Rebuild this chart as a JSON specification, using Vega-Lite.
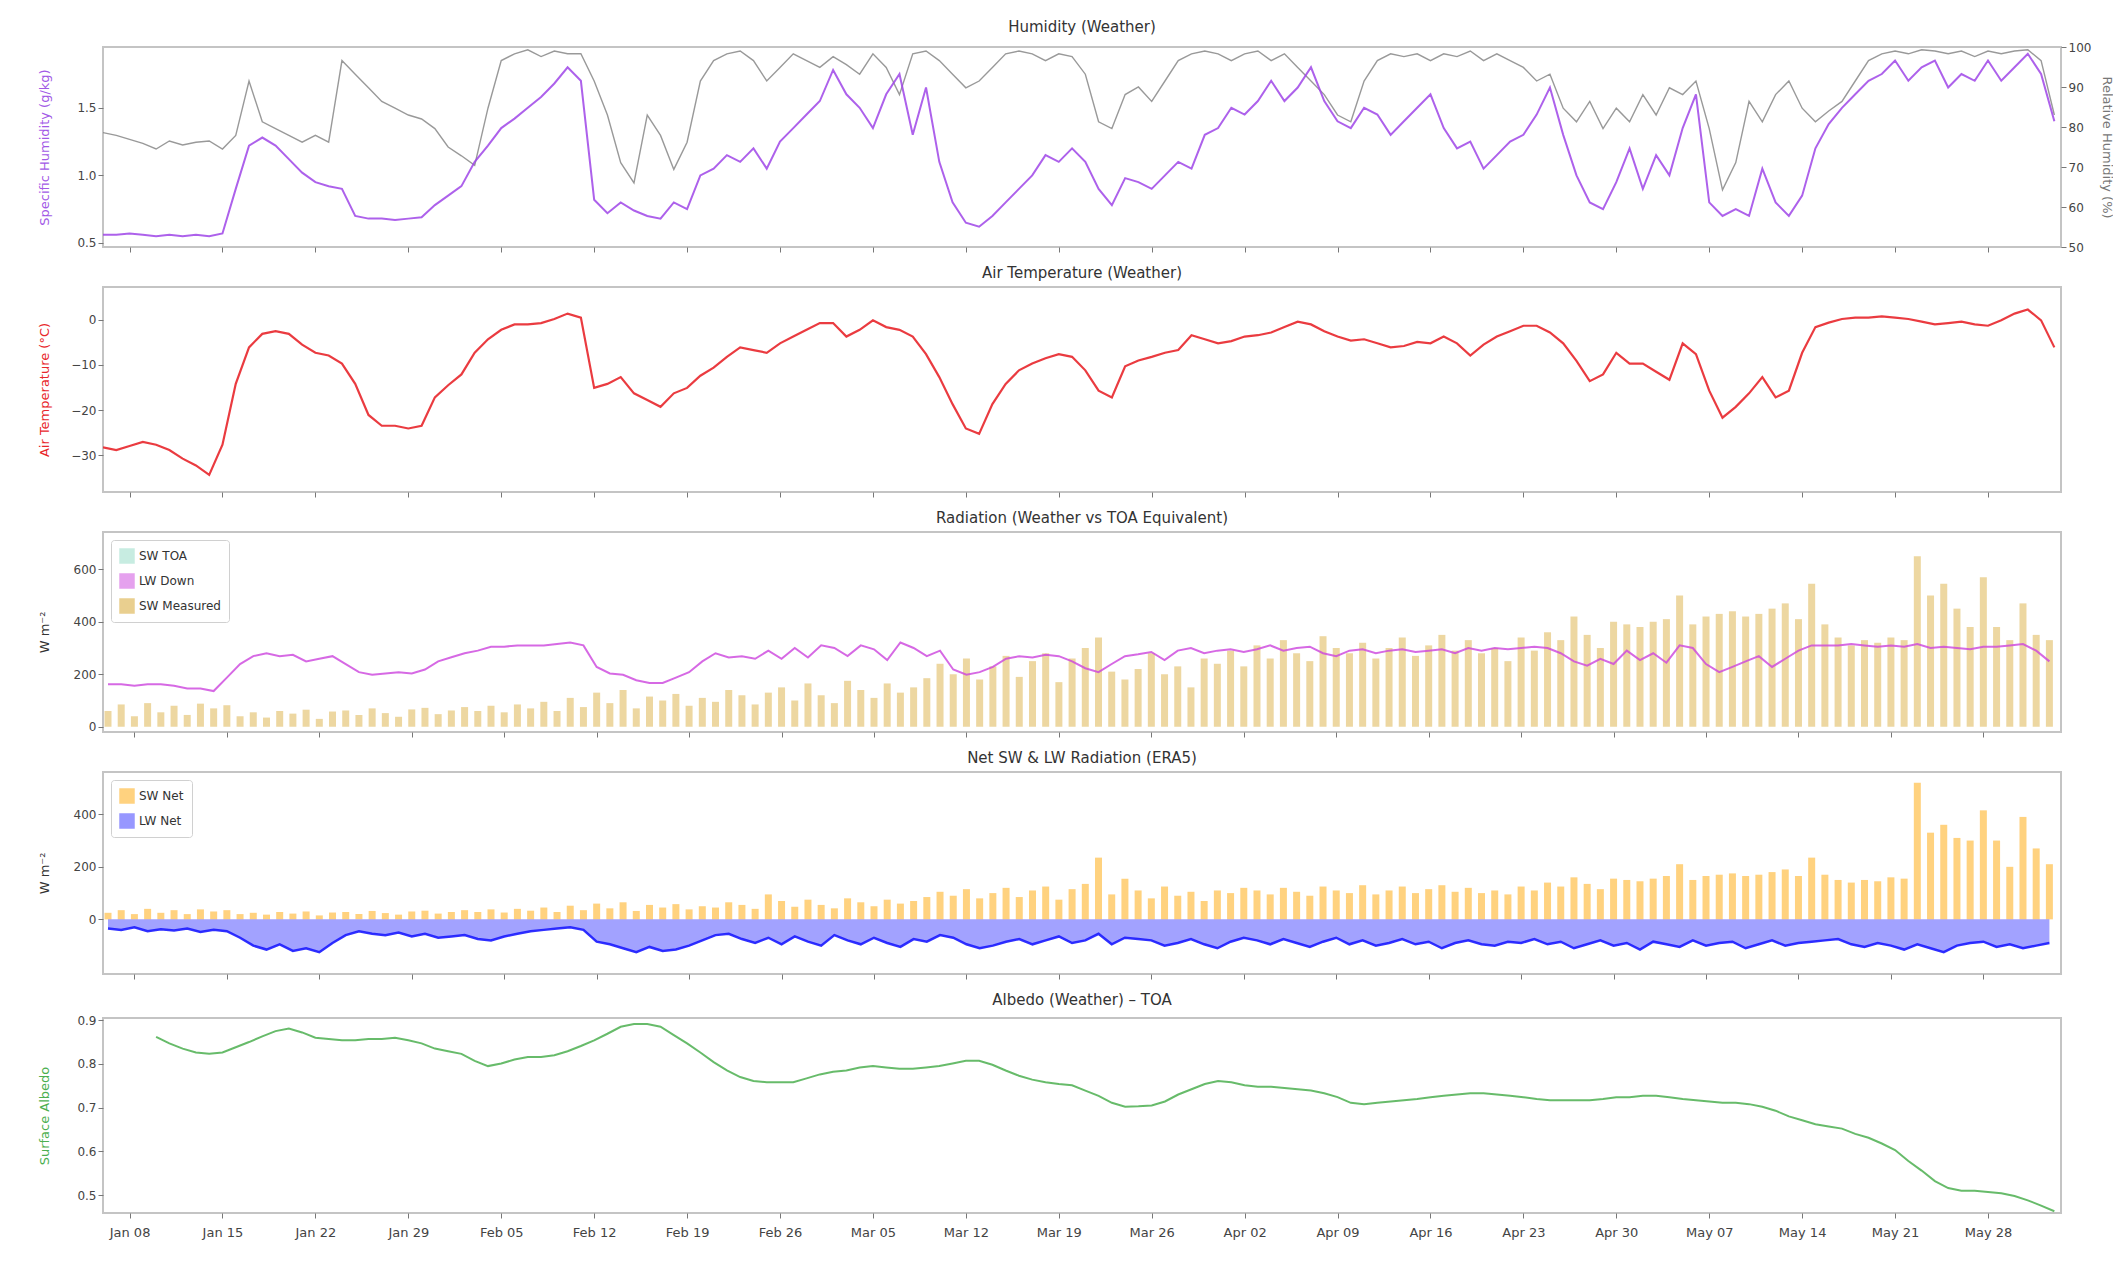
{
  "$schema": "https://vega.github.io/schema/vega-lite/v6.json",
  "background": "white",
  "padding": {"left": 37, "top": 19, "right": 0, "bottom": 5},
  "spacing": 11,
  "resolve": {"scale": {"color": "independent"}, "legend": {"color": "independent"}},
  "config": {
    "font": "DejaVu Sans",
    "view": {"stroke": "#c4c4c4", "strokeWidth": 2},
    "axis": {"grid": false, "domain": false, "tickColor": "#777", "tickSize": 5, "labelFontSize": 12, "labelColor": "#444", "titleFontSize": 13, "titleFontWeight": "normal", "titleColor": "#333", "labelFont": "DejaVu Sans", "titleFont": "DejaVu Sans"},
    "axisY": {"minExtent": 40, "maxExtent": 40, "titlePadding": 12},
    "title": {"fontSize": 15, "fontWeight": "normal", "color": "#333", "offset": 6, "font": "DejaVu Sans"},
    "legend": {"orient": "top-left", "offset": 8, "symbolType": "square", "symbolSize": 240, "symbolOpacity": 0.5, "symbolStrokeWidth": 0, "labelFontSize": 12, "labelColor": "#333", "fillColor": "white", "strokeColor": "#d0d0d0", "padding": 8, "rowPadding": 9, "cornerRadius": 3}
  },
  "datasets": {
    "met": [
      {"d":"2023-01-06","q":0.56,"rh":78.6,"t":-28.3,"lw":162,"sw":60,"sn":25,"ln":-35,"al":null},
      {"d":"2023-01-07","q":0.56,"rh":77.9,"t":-28.9,"lw":162,"sw":85,"sn":35,"ln":-40,"al":null},
      {"d":"2023-01-08","q":0.57,"rh":76.9,"t":-28.0,"lw":156,"sw":40,"sn":20,"ln":-30,"al":null},
      {"d":"2023-01-09","q":0.56,"rh":75.9,"t":-27.1,"lw":162,"sw":90,"sn":40,"ln":-45,"al":null},
      {"d":"2023-01-10","q":0.55,"rh":74.5,"t":-27.7,"lw":162,"sw":55,"sn":25,"ln":-38,"al":0.862},
      {"d":"2023-01-11","q":0.56,"rh":76.5,"t":-28.9,"lw":156,"sw":80,"sn":35,"ln":-42,"al":0.847},
      {"d":"2023-01-12","q":0.55,"rh":75.5,"t":-30.8,"lw":146,"sw":45,"sn":20,"ln":-35,"al":0.835},
      {"d":"2023-01-13","q":0.56,"rh":76.2,"t":-32.3,"lw":146,"sw":88,"sn":38,"ln":-48,"al":0.826},
      {"d":"2023-01-14","q":0.55,"rh":76.5,"t":-34.4,"lw":136,"sw":70,"sn":30,"ln":-40,"al":0.823},
      {"d":"2023-01-15","q":0.57,"rh":74.5,"t":-27.7,"lw":187,"sw":82,"sn":35,"ln":-45,"al":0.826},
      {"d":"2023-01-16","q":0.90,"rh":77.9,"t":-14.2,"lw":239,"sw":40,"sn":20,"ln":-70,"al":0.838},
      {"d":"2023-01-17","q":1.22,"rh":91.5,"t":-6.1,"lw":269,"sw":55,"sn":25,"ln":-100,"al":0.850},
      {"d":"2023-01-18","q":1.28,"rh":81.3,"t":-3.1,"lw":280,"sw":35,"sn":18,"ln":-115,"al":0.863},
      {"d":"2023-01-19","q":1.22,"rh":79.6,"t":-2.5,"lw":269,"sw":60,"sn":28,"ln":-95,"al":0.875},
      {"d":"2023-01-20","q":1.12,"rh":77.9,"t":-3.1,"lw":274,"sw":50,"sn":22,"ln":-120,"al":0.881},
      {"d":"2023-01-21","q":1.02,"rh":76.2,"t":-5.5,"lw":249,"sw":65,"sn":30,"ln":-110,"al":0.872},
      {"d":"2023-01-22","q":0.95,"rh":77.9,"t":-7.3,"lw":259,"sw":30,"sn":15,"ln":-125,"al":0.860},
      {"d":"2023-01-23","q":0.92,"rh":76.2,"t":-7.9,"lw":269,"sw":58,"sn":26,"ln":-90,"al":0.857},
      {"d":"2023-01-24","q":0.90,"rh":96.6,"t":-9.7,"lw":239,"sw":62,"sn":28,"ln":-60,"al":0.854},
      {"d":"2023-01-25","q":0.70,"rh":93.2,"t":-14.2,"lw":208,"sw":45,"sn":20,"ln":-45,"al":0.854},
      {"d":"2023-01-26","q":0.68,"rh":89.8,"t":-21.1,"lw":198,"sw":70,"sn":32,"ln":-55,"al":0.857},
      {"d":"2023-01-27","q":0.68,"rh":86.4,"t":-23.5,"lw":203,"sw":52,"sn":24,"ln":-60,"al":0.857},
      {"d":"2023-01-28","q":0.67,"rh":84.7,"t":-23.5,"lw":208,"sw":38,"sn":18,"ln":-50,"al":0.860},
      {"d":"2023-01-29","q":0.68,"rh":83.0,"t":-24.1,"lw":203,"sw":66,"sn":30,"ln":-65,"al":0.854},
      {"d":"2023-01-30","q":0.69,"rh":82.0,"t":-23.5,"lw":218,"sw":72,"sn":33,"ln":-55,"al":0.847},
      {"d":"2023-01-31","q":0.78,"rh":79.6,"t":-17.2,"lw":249,"sw":48,"sn":22,"ln":-70,"al":0.835},
      {"d":"2023-02-01","q":0.85,"rh":75.0,"t":-14.5,"lw":265,"sw":62,"sn":28,"ln":-65,"al":0.829},
      {"d":"2023-02-02","q":0.92,"rh":72.8,"t":-12.1,"lw":280,"sw":75,"sn":35,"ln":-60,"al":0.823},
      {"d":"2023-02-03","q":1.10,"rh":70.4,"t":-7.3,"lw":290,"sw":60,"sn":28,"ln":-75,"al":0.807},
      {"d":"2023-02-04","q":1.22,"rh":84.7,"t":-4.3,"lw":305,"sw":80,"sn":38,"ln":-80,"al":0.795},
      {"d":"2023-02-05","q":1.35,"rh":96.6,"t":-2.2,"lw":305,"sw":55,"sn":26,"ln":-65,"al":0.801},
      {"d":"2023-02-06","q":1.42,"rh":98.3,"t":-1.0,"lw":310,"sw":85,"sn":40,"ln":-55,"al":0.810},
      {"d":"2023-02-07","q":1.50,"rh":99.3,"t":-1.0,"lw":310,"sw":70,"sn":33,"ln":-45,"al":0.816},
      {"d":"2023-02-08","q":1.58,"rh":97.6,"t":-0.7,"lw":310,"sw":95,"sn":45,"ln":-40,"al":0.816},
      {"d":"2023-02-09","q":1.68,"rh":99.0,"t":0.2,"lw":315,"sw":60,"sn":28,"ln":-35,"al":0.820},
      {"d":"2023-02-10","q":1.80,"rh":98.3,"t":1.4,"lw":321,"sw":110,"sn":52,"ln":-30,"al":0.829},
      {"d":"2023-02-11","q":1.70,"rh":98.3,"t":0.5,"lw":310,"sw":75,"sn":35,"ln":-40,"al":0.841},
      {"d":"2023-02-12","q":0.82,"rh":91.5,"t":-15.1,"lw":228,"sw":130,"sn":60,"ln":-85,"al":0.854},
      {"d":"2023-02-13","q":0.72,"rh":83.0,"t":-14.2,"lw":203,"sw":90,"sn":42,"ln":-95,"al":0.869},
      {"d":"2023-02-14","q":0.80,"rh":71.1,"t":-12.7,"lw":198,"sw":140,"sn":65,"ln":-110,"al":0.885},
      {"d":"2023-02-15","q":0.74,"rh":66.0,"t":-16.3,"lw":177,"sw":70,"sn":32,"ln":-125,"al":0.891},
      {"d":"2023-02-16","q":0.70,"rh":83.0,"t":-17.8,"lw":167,"sw":115,"sn":55,"ln":-105,"al":0.891},
      {"d":"2023-02-17","q":0.68,"rh":77.9,"t":-19.3,"lw":167,"sw":100,"sn":45,"ln":-120,"al":0.885},
      {"d":"2023-02-18","q":0.80,"rh":69.4,"t":-16.3,"lw":187,"sw":125,"sn":58,"ln":-115,"al":0.866},
      {"d":"2023-02-19","q":0.75,"rh":76.2,"t":-15.1,"lw":208,"sw":80,"sn":38,"ln":-100,"al":0.847},
      {"d":"2023-02-20","q":1.00,"rh":91.5,"t":-12.4,"lw":249,"sw":110,"sn":50,"ln":-80,"al":0.826},
      {"d":"2023-02-21","q":1.05,"rh":96.6,"t":-10.6,"lw":280,"sw":95,"sn":45,"ln":-60,"al":0.804},
      {"d":"2023-02-22","q":1.15,"rh":98.3,"t":-8.2,"lw":264,"sw":140,"sn":65,"ln":-55,"al":0.785},
      {"d":"2023-02-23","q":1.10,"rh":99.0,"t":-6.1,"lw":269,"sw":120,"sn":55,"ln":-75,"al":0.770},
      {"d":"2023-02-24","q":1.20,"rh":96.6,"t":-6.7,"lw":259,"sw":85,"sn":40,"ln":-90,"al":0.761},
      {"d":"2023-02-25","q":1.05,"rh":91.5,"t":-7.3,"lw":290,"sw":130,"sn":95,"ln":-70,"al":0.758},
      {"d":"2023-02-26","q":1.25,"rh":94.9,"t":-5.2,"lw":259,"sw":150,"sn":70,"ln":-95,"al":0.758},
      {"d":"2023-02-27","q":1.35,"rh":98.3,"t":-3.7,"lw":300,"sw":100,"sn":48,"ln":-65,"al":0.758},
      {"d":"2023-02-28","q":1.45,"rh":96.6,"t":-2.2,"lw":264,"sw":165,"sn":75,"ln":-85,"al":0.767},
      {"d":"2023-03-01","q":1.55,"rh":94.9,"t":-0.7,"lw":310,"sw":120,"sn":55,"ln":-100,"al":0.776},
      {"d":"2023-03-02","q":1.78,"rh":97.6,"t":-0.7,"lw":300,"sw":90,"sn":42,"ln":-60,"al":0.782},
      {"d":"2023-03-03","q":1.60,"rh":95.6,"t":-3.7,"lw":269,"sw":175,"sn":80,"ln":-80,"al":0.785},
      {"d":"2023-03-04","q":1.50,"rh":93.2,"t":-2.2,"lw":310,"sw":140,"sn":65,"ln":-95,"al":0.792},
      {"d":"2023-03-05","q":1.35,"rh":98.3,"t":-0.1,"lw":295,"sw":110,"sn":50,"ln":-70,"al":0.795},
      {"d":"2023-03-06","q":1.60,"rh":94.9,"t":-1.6,"lw":254,"sw":165,"sn":75,"ln":-90,"al":0.792},
      {"d":"2023-03-07","q":1.75,"rh":88.1,"t":-2.2,"lw":321,"sw":130,"sn":60,"ln":-105,"al":0.789},
      {"d":"2023-03-08","q":1.30,"rh":98.3,"t":-3.7,"lw":300,"sw":150,"sn":70,"ln":-75,"al":0.789},
      {"d":"2023-03-09","q":1.65,"rh":99.0,"t":-7.6,"lw":269,"sw":185,"sn":85,"ln":-85,"al":0.792},
      {"d":"2023-03-10","q":1.10,"rh":96.6,"t":-12.7,"lw":290,"sw":240,"sn":105,"ln":-60,"al":0.795},
      {"d":"2023-03-11","q":0.80,"rh":93.2,"t":-18.7,"lw":218,"sw":200,"sn":90,"ln":-70,"al":0.801},
      {"d":"2023-03-12","q":0.65,"rh":89.8,"t":-24.1,"lw":198,"sw":260,"sn":115,"ln":-95,"al":0.807},
      {"d":"2023-03-13","q":0.62,"rh":91.5,"t":-25.3,"lw":208,"sw":180,"sn":80,"ln":-110,"al":0.807},
      {"d":"2023-03-14","q":0.70,"rh":94.9,"t":-18.7,"lw":228,"sw":230,"sn":100,"ln":-100,"al":0.798},
      {"d":"2023-03-15","q":0.80,"rh":98.3,"t":-14.2,"lw":259,"sw":270,"sn":120,"ln":-85,"al":0.785},
      {"d":"2023-03-16","q":0.90,"rh":99.0,"t":-11.2,"lw":269,"sw":190,"sn":85,"ln":-75,"al":0.773},
      {"d":"2023-03-17","q":1.00,"rh":98.3,"t":-9.7,"lw":264,"sw":250,"sn":110,"ln":-95,"al":0.764},
      {"d":"2023-03-18","q":1.15,"rh":96.6,"t":-8.5,"lw":274,"sw":280,"sn":125,"ln":-80,"al":0.758},
      {"d":"2023-03-19","q":1.10,"rh":98.3,"t":-7.6,"lw":269,"sw":170,"sn":75,"ln":-65,"al":0.754},
      {"d":"2023-03-20","q":1.20,"rh":97.6,"t":-8.2,"lw":249,"sw":260,"sn":115,"ln":-90,"al":0.751},
      {"d":"2023-03-21","q":1.10,"rh":93.2,"t":-11.2,"lw":223,"sw":300,"sn":135,"ln":-80,"al":0.739},
      {"d":"2023-03-22","q":0.90,"rh":81.3,"t":-15.7,"lw":208,"sw":340,"sn":235,"ln":-55,"al":0.727},
      {"d":"2023-03-23","q":0.78,"rh":79.6,"t":-17.2,"lw":239,"sw":210,"sn":95,"ln":-95,"al":0.711},
      {"d":"2023-03-24","q":0.98,"rh":88.1,"t":-10.3,"lw":269,"sw":180,"sn":155,"ln":-70,"al":0.702},
      {"d":"2023-03-25","q":0.95,"rh":90.0,"t":-9.0,"lw":276,"sw":220,"sn":110,"ln":-75,"al":0.703},
      {"d":"2023-03-26","q":0.90,"rh":86.4,"t":-8.2,"lw":285,"sw":280,"sn":80,"ln":-80,"al":0.705},
      {"d":"2023-03-27","q":1.00,"rh":91.5,"t":-7.3,"lw":254,"sw":200,"sn":125,"ln":-100,"al":0.714},
      {"d":"2023-03-28","q":1.10,"rh":96.6,"t":-6.7,"lw":290,"sw":230,"sn":90,"ln":-90,"al":0.730},
      {"d":"2023-03-29","q":1.05,"rh":98.3,"t":-3.4,"lw":300,"sw":150,"sn":105,"ln":-75,"al":0.742},
      {"d":"2023-03-30","q":1.30,"rh":99.0,"t":-4.3,"lw":280,"sw":260,"sn":70,"ln":-95,"al":0.754},
      {"d":"2023-03-31","q":1.35,"rh":98.3,"t":-5.2,"lw":290,"sw":240,"sn":110,"ln":-110,"al":0.761},
      {"d":"2023-04-01","q":1.50,"rh":96.6,"t":-4.7,"lw":295,"sw":290,"sn":100,"ln":-85,"al":0.758},
      {"d":"2023-04-02","q":1.45,"rh":98.3,"t":-3.7,"lw":285,"sw":230,"sn":120,"ln":-70,"al":0.751},
      {"d":"2023-04-03","q":1.55,"rh":99.0,"t":-3.4,"lw":295,"sw":310,"sn":110,"ln":-80,"al":0.748},
      {"d":"2023-04-04","q":1.70,"rh":96.6,"t":-2.8,"lw":310,"sw":260,"sn":95,"ln":-95,"al":0.748},
      {"d":"2023-04-05","q":1.55,"rh":98.3,"t":-1.6,"lw":290,"sw":330,"sn":120,"ln":-75,"al":0.745},
      {"d":"2023-04-06","q":1.65,"rh":94.9,"t":-0.4,"lw":300,"sw":280,"sn":105,"ln":-90,"al":0.742},
      {"d":"2023-04-07","q":1.80,"rh":91.5,"t":-1.0,"lw":305,"sw":250,"sn":90,"ln":-105,"al":0.739},
      {"d":"2023-04-08","q":1.55,"rh":88.1,"t":-2.5,"lw":280,"sw":345,"sn":125,"ln":-85,"al":0.733},
      {"d":"2023-04-09","q":1.40,"rh":83.0,"t":-3.7,"lw":269,"sw":300,"sn":110,"ln":-70,"al":0.724},
      {"d":"2023-04-10","q":1.35,"rh":81.3,"t":-4.6,"lw":290,"sw":280,"sn":100,"ln":-95,"al":0.711},
      {"d":"2023-04-11","q":1.50,"rh":91.5,"t":-4.3,"lw":295,"sw":320,"sn":130,"ln":-80,"al":0.708},
      {"d":"2023-04-12","q":1.45,"rh":96.6,"t":-5.2,"lw":280,"sw":260,"sn":95,"ln":-100,"al":0.711},
      {"d":"2023-04-13","q":1.30,"rh":98.3,"t":-6.1,"lw":290,"sw":300,"sn":110,"ln":-90,"al":0.714},
      {"d":"2023-04-14","q":1.40,"rh":97.6,"t":-5.8,"lw":295,"sw":340,"sn":125,"ln":-75,"al":0.717},
      {"d":"2023-04-15","q":1.50,"rh":98.3,"t":-4.9,"lw":285,"sw":270,"sn":100,"ln":-95,"al":0.720},
      {"d":"2023-04-16","q":1.60,"rh":96.6,"t":-5.2,"lw":290,"sw":310,"sn":115,"ln":-85,"al":0.724},
      {"d":"2023-04-17","q":1.35,"rh":98.3,"t":-3.7,"lw":295,"sw":350,"sn":130,"ln":-110,"al":0.727},
      {"d":"2023-04-18","q":1.20,"rh":97.6,"t":-5.2,"lw":280,"sw":290,"sn":105,"ln":-90,"al":0.730},
      {"d":"2023-04-19","q":1.25,"rh":99.0,"t":-7.9,"lw":300,"sw":330,"sn":120,"ln":-80,"al":0.733},
      {"d":"2023-04-20","q":1.05,"rh":96.6,"t":-5.5,"lw":290,"sw":280,"sn":100,"ln":-95,"al":0.733},
      {"d":"2023-04-21","q":1.15,"rh":98.3,"t":-3.7,"lw":300,"sw":300,"sn":110,"ln":-100,"al":0.730},
      {"d":"2023-04-22","q":1.25,"rh":96.6,"t":-2.5,"lw":295,"sw":250,"sn":95,"ln":-85,"al":0.727},
      {"d":"2023-04-23","q":1.30,"rh":94.9,"t":-1.3,"lw":300,"sw":340,"sn":125,"ln":-90,"al":0.724},
      {"d":"2023-04-24","q":1.45,"rh":91.5,"t":-1.3,"lw":305,"sw":290,"sn":110,"ln":-75,"al":0.720},
      {"d":"2023-04-25","q":1.65,"rh":93.2,"t":-2.8,"lw":300,"sw":360,"sn":140,"ln":-95,"al":0.717},
      {"d":"2023-04-26","q":1.30,"rh":84.7,"t":-5.2,"lw":280,"sw":330,"sn":125,"ln":-85,"al":0.717},
      {"d":"2023-04-27","q":1.00,"rh":81.3,"t":-9.1,"lw":249,"sw":420,"sn":160,"ln":-110,"al":0.717},
      {"d":"2023-04-28","q":0.80,"rh":86.4,"t":-13.6,"lw":233,"sw":350,"sn":135,"ln":-95,"al":0.717},
      {"d":"2023-04-29","q":0.75,"rh":79.6,"t":-12.1,"lw":259,"sw":300,"sn":115,"ln":-80,"al":0.720},
      {"d":"2023-04-30","q":0.95,"rh":84.7,"t":-7.3,"lw":239,"sw":400,"sn":155,"ln":-100,"al":0.724},
      {"d":"2023-05-01","q":1.20,"rh":81.3,"t":-9.7,"lw":290,"sw":390,"sn":150,"ln":-90,"al":0.724},
      {"d":"2023-05-02","q":0.90,"rh":88.1,"t":-9.7,"lw":254,"sw":380,"sn":145,"ln":-115,"al":0.727},
      {"d":"2023-05-03","q":1.15,"rh":83.0,"t":-11.5,"lw":280,"sw":400,"sn":155,"ln":-85,"al":0.727},
      {"d":"2023-05-04","q":1.00,"rh":89.8,"t":-13.3,"lw":244,"sw":410,"sn":165,"ln":-95,"al":0.724},
      {"d":"2023-05-05","q":1.35,"rh":88.1,"t":-5.2,"lw":310,"sw":500,"sn":210,"ln":-105,"al":0.720},
      {"d":"2023-05-06","q":1.60,"rh":91.5,"t":-7.6,"lw":300,"sw":390,"sn":150,"ln":-80,"al":0.717},
      {"d":"2023-05-07","q":0.80,"rh":79.6,"t":-15.7,"lw":239,"sw":420,"sn":165,"ln":-100,"al":0.714},
      {"d":"2023-05-08","q":0.70,"rh":64.3,"t":-21.7,"lw":208,"sw":430,"sn":170,"ln":-90,"al":0.711},
      {"d":"2023-05-09","q":0.75,"rh":71.1,"t":-19.3,"lw":228,"sw":440,"sn":175,"ln":-85,"al":0.711},
      {"d":"2023-05-10","q":0.70,"rh":86.4,"t":-16.3,"lw":249,"sw":420,"sn":165,"ln":-110,"al":0.708},
      {"d":"2023-05-11","q":1.05,"rh":81.3,"t":-12.7,"lw":269,"sw":430,"sn":170,"ln":-95,"al":0.702},
      {"d":"2023-05-12","q":0.80,"rh":88.1,"t":-17.2,"lw":228,"sw":450,"sn":180,"ln":-80,"al":0.693},
      {"d":"2023-05-13","q":0.70,"rh":91.5,"t":-15.7,"lw":259,"sw":470,"sn":190,"ln":-100,"al":0.680},
      {"d":"2023-05-14","q":0.85,"rh":84.7,"t":-7.3,"lw":290,"sw":410,"sn":165,"ln":-90,"al":0.671},
      {"d":"2023-05-15","q":1.20,"rh":81.3,"t":-1.6,"lw":310,"sw":545,"sn":235,"ln":-85,"al":0.662},
      {"d":"2023-05-16","q":1.38,"rh":84.0,"t":-0.6,"lw":310,"sw":390,"sn":170,"ln":-80,"al":0.657},
      {"d":"2023-05-17","q":1.50,"rh":86.4,"t":0.2,"lw":310,"sw":340,"sn":150,"ln":-75,"al":0.652},
      {"d":"2023-05-18","q":1.60,"rh":91.5,"t":0.5,"lw":315,"sw":310,"sn":140,"ln":-95,"al":0.640},
      {"d":"2023-05-19","q":1.70,"rh":96.6,"t":0.5,"lw":310,"sw":330,"sn":150,"ln":-105,"al":0.631},
      {"d":"2023-05-20","q":1.75,"rh":98.3,"t":0.8,"lw":305,"sw":320,"sn":145,"ln":-90,"al":0.618},
      {"d":"2023-05-21","q":1.85,"rh":99.0,"t":0.5,"lw":310,"sw":340,"sn":160,"ln":-100,"al":0.603},
      {"d":"2023-05-22","q":1.70,"rh":98.3,"t":0.2,"lw":305,"sw":330,"sn":155,"ln":-115,"al":0.578},
      {"d":"2023-05-23","q":1.80,"rh":99.3,"t":-0.4,"lw":315,"sw":650,"sn":520,"ln":-95,"al":0.556},
      {"d":"2023-05-24","q":1.85,"rh":99.0,"t":-1.0,"lw":300,"sw":500,"sn":330,"ln":-110,"al":0.532},
      {"d":"2023-05-25","q":1.65,"rh":98.3,"t":-0.7,"lw":305,"sw":545,"sn":360,"ln":-125,"al":0.516},
      {"d":"2023-05-26","q":1.75,"rh":99.0,"t":-0.4,"lw":300,"sw":450,"sn":310,"ln":-100,"al":0.510},
      {"d":"2023-05-27","q":1.70,"rh":97.6,"t":-1.0,"lw":295,"sw":380,"sn":300,"ln":-90,"al":0.510},
      {"d":"2023-05-28","q":1.85,"rh":99.0,"t":-1.3,"lw":305,"sw":570,"sn":415,"ln":-85,"al":0.507},
      {"d":"2023-05-29","q":1.70,"rh":98.3,"t":-0.1,"lw":305,"sw":380,"sn":300,"ln":-105,"al":0.504},
      {"d":"2023-05-30","q":1.80,"rh":99.0,"t":1.4,"lw":310,"sw":330,"sn":200,"ln":-95,"al":0.498},
      {"d":"2023-05-31","q":1.90,"rh":99.3,"t":2.3,"lw":315,"sw":470,"sn":390,"ln":-110,"al":0.488},
      {"d":"2023-06-01","q":1.75,"rh":96.6,"t":-0.1,"lw":290,"sw":350,"sn":270,"ln":-100,"al":0.476},
      {"d":"2023-06-02","q":1.40,"rh":83.0,"t":-6.1,"lw":249,"sw":330,"sn":210,"ln":-90,"al":0.463}
    ]
  },
  "vconcat": [
    {
      "title": "Humidity (Weather)",
      "width": 1958,
      "height": 200,
      "data": {"name": "met"},
      "encoding": {
        "x": {
          "field": "d", "type": "temporal",
          "scale": {"type": "utc", "domain": [{"year": 2023, "month": 1, "date": 6, "utc": true}, {"year": 2023, "month": 6, "date": 2, "hours": 12, "utc": true}]},
          "axis": {"title": null, "labels": false, "values": [
            {"year":2023,"month":1,"date":8,"utc":true},{"year":2023,"month":1,"date":15,"utc":true},{"year":2023,"month":1,"date":22,"utc":true},{"year":2023,"month":1,"date":29,"utc":true},
            {"year":2023,"month":2,"date":5,"utc":true},{"year":2023,"month":2,"date":12,"utc":true},{"year":2023,"month":2,"date":19,"utc":true},{"year":2023,"month":2,"date":26,"utc":true},
            {"year":2023,"month":3,"date":5,"utc":true},{"year":2023,"month":3,"date":12,"utc":true},{"year":2023,"month":3,"date":19,"utc":true},{"year":2023,"month":3,"date":26,"utc":true},
            {"year":2023,"month":4,"date":2,"utc":true},{"year":2023,"month":4,"date":9,"utc":true},{"year":2023,"month":4,"date":16,"utc":true},{"year":2023,"month":4,"date":23,"utc":true},
            {"year":2023,"month":4,"date":30,"utc":true},{"year":2023,"month":5,"date":7,"utc":true},{"year":2023,"month":5,"date":14,"utc":true},{"year":2023,"month":5,"date":21,"utc":true},
            {"year":2023,"month":5,"date":28,"utc":true}]}
        }
      },
      "layer": [
        {
          "mark": {"type": "line", "color": "#808080", "strokeWidth": 1.4, "opacity": 0.8, "clip": true},
          "encoding": {
            "y": {"field": "rh", "type": "quantitative", "scale": {"domain": [50, 100], "nice": false, "zero": false},
              "axis": {"orient": "right", "title": "Relative Humidity (%)", "titleColor": "#777", "values": [50, 60, 70, 80, 90, 100], "minExtent": 30, "maxExtent": 30, "titlePadding": 8}}
          }
        },
        {
          "mark": {"type": "line", "color": "#9f45e8", "strokeWidth": 2, "opacity": 0.85, "clip": true},
          "encoding": {
            "y": {"field": "q", "type": "quantitative", "scale": {"domain": [0.47, 1.95], "nice": false, "zero": false},
              "axis": {"orient": "left", "title": "Specific Humidity (g/kg)", "titleColor": "#a259e6", "values": [0.5, 1.0, 1.5], "format": ".1f"}}
          }
        }
      ],
      "resolve": {"scale": {"y": "independent"}, "axis": {"y": "independent"}}
    },
    {
      "title": "Air Temperature (Weather)",
      "width": 1958,
      "height": 205,
      "data": {"name": "met"},
      "mark": {"type": "line", "color": "#e8262b", "strokeWidth": 2.2, "opacity": 0.9, "clip": true},
      "encoding": {
        "x": {
          "field": "d", "type": "temporal",
          "scale": {"type": "utc", "domain": [{"year": 2023, "month": 1, "date": 6, "utc": true}, {"year": 2023, "month": 6, "date": 2, "hours": 12, "utc": true}]},
          "axis": {"title": null, "labels": false, "values": [
            {"year":2023,"month":1,"date":8,"utc":true},{"year":2023,"month":1,"date":15,"utc":true},{"year":2023,"month":1,"date":22,"utc":true},{"year":2023,"month":1,"date":29,"utc":true},
            {"year":2023,"month":2,"date":5,"utc":true},{"year":2023,"month":2,"date":12,"utc":true},{"year":2023,"month":2,"date":19,"utc":true},{"year":2023,"month":2,"date":26,"utc":true},
            {"year":2023,"month":3,"date":5,"utc":true},{"year":2023,"month":3,"date":12,"utc":true},{"year":2023,"month":3,"date":19,"utc":true},{"year":2023,"month":3,"date":26,"utc":true},
            {"year":2023,"month":4,"date":2,"utc":true},{"year":2023,"month":4,"date":9,"utc":true},{"year":2023,"month":4,"date":16,"utc":true},{"year":2023,"month":4,"date":23,"utc":true},
            {"year":2023,"month":4,"date":30,"utc":true},{"year":2023,"month":5,"date":7,"utc":true},{"year":2023,"month":5,"date":14,"utc":true},{"year":2023,"month":5,"date":21,"utc":true},
            {"year":2023,"month":5,"date":28,"utc":true}]}
        },
        "y": {"field": "t", "type": "quantitative", "scale": {"domain": [-38.2, 7.3], "nice": false, "zero": false},
          "axis": {"title": "Air Temperature (°C)", "titleColor": "#e8262b", "values": [-30, -20, -10, 0]}}
      }
    },
    {
      "title": "Radiation (Weather vs TOA Equivalent)",
      "width": 1958,
      "height": 200,
      "data": {"name": "met"},
      "encoding": {
        "x": {
          "field": "d", "type": "temporal",
          "scale": {"type": "utc", "domain": [{"year": 2023, "month": 1, "date": 6, "utc": true}, {"year": 2023, "month": 6, "date": 2, "hours": 12, "utc": true}]},
          "axis": {"title": null, "labels": false, "values": [
            {"year":2023,"month":1,"date":8,"utc":true},{"year":2023,"month":1,"date":15,"utc":true},{"year":2023,"month":1,"date":22,"utc":true},{"year":2023,"month":1,"date":29,"utc":true},
            {"year":2023,"month":2,"date":5,"utc":true},{"year":2023,"month":2,"date":12,"utc":true},{"year":2023,"month":2,"date":19,"utc":true},{"year":2023,"month":2,"date":26,"utc":true},
            {"year":2023,"month":3,"date":5,"utc":true},{"year":2023,"month":3,"date":12,"utc":true},{"year":2023,"month":3,"date":19,"utc":true},{"year":2023,"month":3,"date":26,"utc":true},
            {"year":2023,"month":4,"date":2,"utc":true},{"year":2023,"month":4,"date":9,"utc":true},{"year":2023,"month":4,"date":16,"utc":true},{"year":2023,"month":4,"date":23,"utc":true},
            {"year":2023,"month":4,"date":30,"utc":true},{"year":2023,"month":5,"date":7,"utc":true},{"year":2023,"month":5,"date":14,"utc":true},{"year":2023,"month":5,"date":21,"utc":true},
            {"year":2023,"month":5,"date":28,"utc":true}]}
        }
      },
      "layer": [
        {
          "mark": {"type": "bar", "width": 7, "opacity": 0.42, "clip": true},
          "encoding": {
            "y": {"field": "sw", "type": "quantitative", "scale": {"domain": [-20, 742], "nice": false, "zero": false},
              "axis": {"title": "W m⁻²", "values": [0, 200, 400, 600]}},
            "y2": {"datum": 0},
            "color": {"datum": "SW Measured", "type": "nominal",
              "scale": {"domain": ["SW TOA", "LW Down", "SW Measured"], "range": ["#8fd9c4", "#cc44dd", "#d4a020"]},
              "legend": {"title": null}}
          }
        },
        {
          "mark": {"type": "line", "color": "#cc44dd", "strokeWidth": 2, "opacity": 0.8, "clip": true},
          "encoding": {
            "y": {"field": "lw", "type": "quantitative"}
          }
        }
      ]
    },
    {
      "title": "Net SW & LW Radiation (ERA5)",
      "width": 1958,
      "height": 202,
      "data": {"name": "met"},
      "encoding": {
        "x": {
          "field": "d", "type": "temporal",
          "scale": {"type": "utc", "domain": [{"year": 2023, "month": 1, "date": 6, "utc": true}, {"year": 2023, "month": 6, "date": 2, "hours": 12, "utc": true}]},
          "axis": {"title": null, "labels": false, "values": [
            {"year":2023,"month":1,"date":8,"utc":true},{"year":2023,"month":1,"date":15,"utc":true},{"year":2023,"month":1,"date":22,"utc":true},{"year":2023,"month":1,"date":29,"utc":true},
            {"year":2023,"month":2,"date":5,"utc":true},{"year":2023,"month":2,"date":12,"utc":true},{"year":2023,"month":2,"date":19,"utc":true},{"year":2023,"month":2,"date":26,"utc":true},
            {"year":2023,"month":3,"date":5,"utc":true},{"year":2023,"month":3,"date":12,"utc":true},{"year":2023,"month":3,"date":19,"utc":true},{"year":2023,"month":3,"date":26,"utc":true},
            {"year":2023,"month":4,"date":2,"utc":true},{"year":2023,"month":4,"date":9,"utc":true},{"year":2023,"month":4,"date":16,"utc":true},{"year":2023,"month":4,"date":23,"utc":true},
            {"year":2023,"month":4,"date":30,"utc":true},{"year":2023,"month":5,"date":7,"utc":true},{"year":2023,"month":5,"date":14,"utc":true},{"year":2023,"month":5,"date":21,"utc":true},
            {"year":2023,"month":5,"date":28,"utc":true}]}
        }
      },
      "layer": [
        {
          "mark": {"type": "bar", "width": 7, "opacity": 0.5, "clip": true},
          "encoding": {
            "y": {"field": "sn", "type": "quantitative", "scale": {"domain": [-208, 561], "nice": false, "zero": false},
              "axis": {"title": "W m⁻²", "values": [0, 200, 400]}},
            "y2": {"datum": 0},
            "color": {"datum": "SW Net", "type": "nominal",
              "scale": {"domain": ["SW Net", "LW Net"], "range": ["#ffa500", "#3030ff"]},
              "legend": {"title": null}}
          }
        },
        {
          "mark": {"type": "area", "color": "#3030ff", "opacity": 0.45, "clip": true},
          "encoding": {
            "y": {"field": "ln", "type": "quantitative"},
            "y2": {"datum": 0}
          }
        },
        {
          "mark": {"type": "line", "color": "#1a1aff", "strokeWidth": 2.5, "opacity": 0.9, "clip": true},
          "encoding": {
            "y": {"field": "ln", "type": "quantitative"}
          }
        }
      ]
    },
    {
      "title": "Albedo (Weather) – TOA",
      "width": 1958,
      "height": 195,
      "data": {"name": "met"},
      "mark": {"type": "line", "color": "#4caf50", "strokeWidth": 2, "opacity": 0.85, "clip": true},
      "encoding": {
        "x": {
          "field": "d", "type": "temporal",
          "scale": {"type": "utc", "domain": [{"year": 2023, "month": 1, "date": 6, "utc": true}, {"year": 2023, "month": 6, "date": 2, "hours": 12, "utc": true}]},
          "axis": {"title": null, "format": "%b %d", "labelPadding": 8, "labelFontSize": 13, "values": [
            {"year":2023,"month":1,"date":8,"utc":true},{"year":2023,"month":1,"date":15,"utc":true},{"year":2023,"month":1,"date":22,"utc":true},{"year":2023,"month":1,"date":29,"utc":true},
            {"year":2023,"month":2,"date":5,"utc":true},{"year":2023,"month":2,"date":12,"utc":true},{"year":2023,"month":2,"date":19,"utc":true},{"year":2023,"month":2,"date":26,"utc":true},
            {"year":2023,"month":3,"date":5,"utc":true},{"year":2023,"month":3,"date":12,"utc":true},{"year":2023,"month":3,"date":19,"utc":true},{"year":2023,"month":3,"date":26,"utc":true},
            {"year":2023,"month":4,"date":2,"utc":true},{"year":2023,"month":4,"date":9,"utc":true},{"year":2023,"month":4,"date":16,"utc":true},{"year":2023,"month":4,"date":23,"utc":true},
            {"year":2023,"month":4,"date":30,"utc":true},{"year":2023,"month":5,"date":7,"utc":true},{"year":2023,"month":5,"date":14,"utc":true},{"year":2023,"month":5,"date":21,"utc":true},
            {"year":2023,"month":5,"date":28,"utc":true}]}
        },
        "y": {"field": "al", "type": "quantitative", "scale": {"domain": [0.459, 0.905], "nice": false, "zero": false},
          "axis": {"title": "Surface Albedo", "titleColor": "#4caf50", "values": [0.5, 0.6, 0.7, 0.8, 0.9], "format": ".1f"}}
      }
    }
  ]
}
